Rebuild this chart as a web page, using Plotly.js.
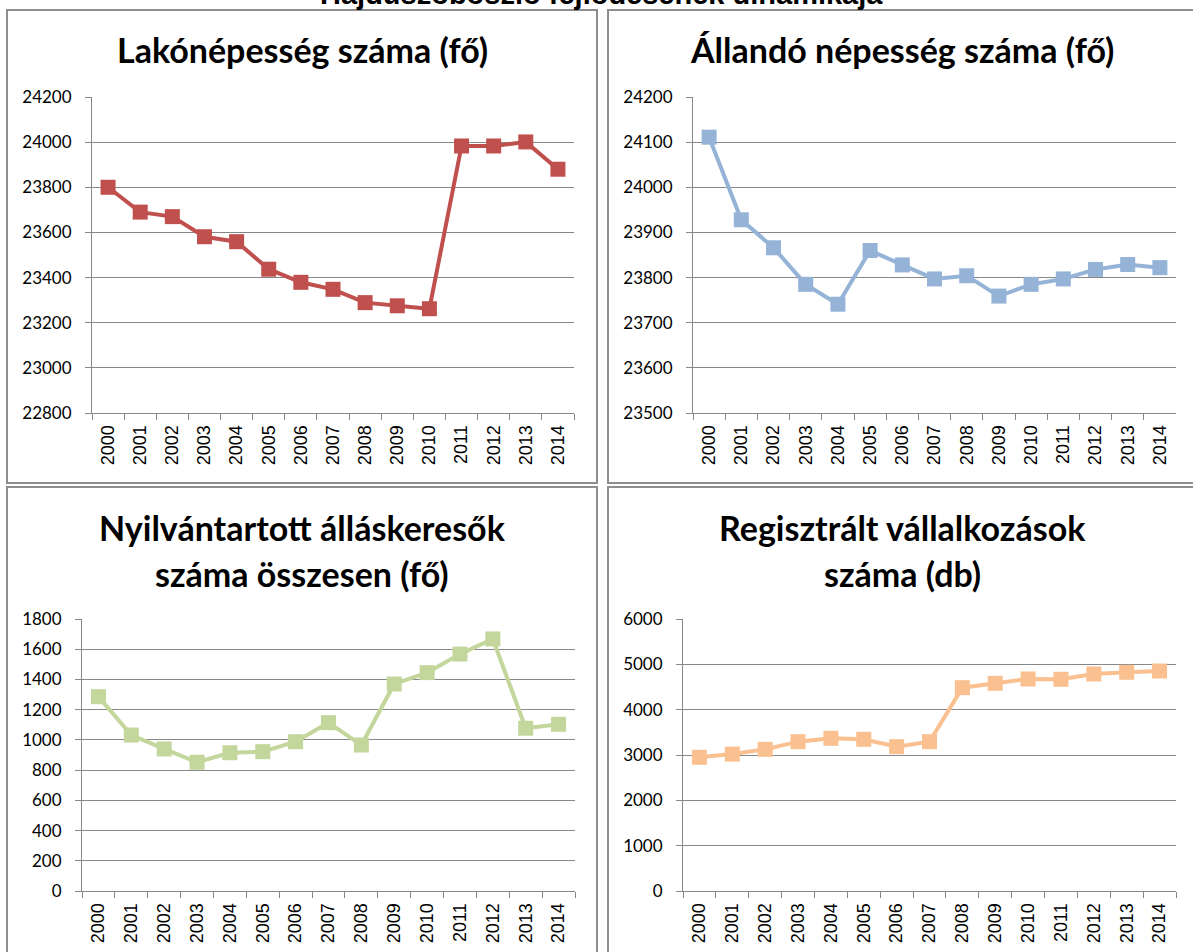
<!DOCTYPE html>
<html>
<head>
<meta charset="utf-8">
<script src="https://cdn.plot.ly/plotly-3.0.1.min.js"></script>
<style>
html,body{margin:0;padding:0;background:#fff;}
#chart{width:1193px;height:952px;}
</style>
</head>
<body>
<div id="chart"></div>
<script>
const years = ['2000','2001','2002','2003','2004','2005','2006','2007','2008','2009','2010','2011','2012','2013','2014'];
const lakonepesseg = [23800,23690,23670,23581,23559,23437,23379,23348,23289,23275,23262,23983,23983,24001,23880];
const allandoNepesseg = [24111,23928,23866,23785,23741,23860,23828,23797,23804,23759,23785,23797,23818,23829,23822];
const allaskeresok = [1286,1032,940,852,915,922,988,1114,966,1370,1445,1568,1668,1077,1103];
const vallalkozasok = [2950,3020,3125,3294,3368,3346,3184,3294,4485,4581,4677,4670,4787,4824,4853];

const mainTitle = 'Hajdúszoboszló fejlődésének dinamikája';
const titles = [
  ['Lakónépesség száma (fő)'],
  ['Állandó népesség száma (fő)'],
  ['Nyilvántartott álláskeresők', 'száma összesen (fő)'],
  ['Regisztrált vállalkozások', 'száma (db)']
];
const colors = ['#C0504D', '#95B3D7', '#C3D69B', '#FAC090'];

const W = 1193, H = 952;
const px = v => v / W;
const py = v => 1 - v / H;

const series = [lakonepesseg, allandoNepesseg, allaskeresok, vallalkozasok];
const yRanges = [[22800, 24200], [23500, 24200], [0, 1800], [0, 6000]];
const yDticks = [200, 100, 200, 1000];
const xDomains = [[92, 574], [693, 1176], [82, 575], [683, 1176]];
const yDomains = [[97, 413], [97, 413], [619, 891], [619, 891]];

const data = series.map((s, i) => ({
  x: years, y: s, type: 'scatter', mode: 'lines+markers',
  xaxis: i === 0 ? 'x' : 'x' + (i + 1),
  yaxis: i === 0 ? 'y' : 'y' + (i + 1),
  line: {color: colors[i], width: 4},
  marker: {symbol: 'square', size: 15, color: colors[i]},
  cliponaxis: false,
  hoverinfo: 'x+y'
}));

const layout = {
  width: W, height: H,
  margin: {l: 0, r: 0, t: 0, b: 0},
  paper_bgcolor: '#fff', plot_bgcolor: '#fff',
  showlegend: false,
  font: {family: 'Liberation Sans, Arial, sans-serif', color: '#000'},
  shapes: [], annotations: []
};

const gridColor = '#878787';
for (let i = 0; i < 4; i++) {
  const xa = i === 0 ? 'xaxis' : 'xaxis' + (i + 1);
  const ya = i === 0 ? 'yaxis' : 'yaxis' + (i + 1);
  layout[xa] = {
    domain: [px(xDomains[i][0]), px(xDomains[i][1])],
    anchor: i === 0 ? 'y' : 'y' + (i + 1),
    type: 'category',
    range: [-0.5, years.length - 0.5],
    tickson: 'boundaries',
    ticks: 'outside', ticklen: 6, tickcolor: gridColor, tickwidth: 1,
    showline: true, linecolor: gridColor, linewidth: 1,
    showgrid: false, zeroline: false,
    tickangle: -90,
    ticklabelstandoff: 4,
    tickfont: {family: 'Liberation Sans, Arial, sans-serif', size: 18, color: '#000'},
    fixedrange: true
  };
  layout[ya] = {
    domain: [py(yDomains[i][1]), py(yDomains[i][0])],
    anchor: i === 0 ? 'x' : 'x' + (i + 1),
    range: yRanges[i], dtick: yDticks[i], tick0: 0,
    tickformat: 'd',
    ticks: 'outside', ticklen: 6, tickcolor: gridColor, tickwidth: 1,
    showline: true, linecolor: gridColor, linewidth: 1,
    showgrid: true, gridcolor: gridColor, gridwidth: 1,
    zeroline: false,
    ticklabelstandoff: 10,
    tickfont: {family: 'Lato, sans-serif', size: 17, color: '#000'},
    fixedrange: true
  };
}

// panel borders
const panels = [[7, 10, 597, 483], [608, 10, 1200, 483], [7, 487, 597, 960], [608, 487, 1200, 960]];
panels.forEach(p => layout.shapes.push({
  type: 'rect', xref: 'paper', yref: 'paper',
  x0: px(p[0]), x1: px(p[2]), y0: py(p[3]), y1: py(p[1]),
  line: {color: '#8e8e8e', width: 2}, fillcolor: 'rgba(0,0,0,0)', layer: 'below'
}));

// panel titles
const titleCenters = [[302, [49]], [902, [49]], [302, [527, 573]], [902, [527, 573]]];
titles.forEach((lines, i) => {
  lines.forEach((t, j) => layout.annotations.push({
    text: t, xref: 'paper', yref: 'paper',
    x: px(titleCenters[i][0]), y: py(titleCenters[i][1][j]),
    xanchor: 'center', yanchor: 'middle', showarrow: false,
    font: {family: 'Lato, sans-serif', size: 34, color: '#000', weight: 'bold'}
  }));
});

layout.annotations.push({
  text: '<b>' + mainTitle + '</b>', xref: 'paper', yref: 'paper',
  x: px(601), y: py(12), xanchor: 'center', yanchor: 'bottom', showarrow: false,
  font: {family: 'Liberation Sans, Arial, sans-serif', size: 29, color: '#000'}
});

Plotly.newPlot('chart', data, layout, {displayModeBar: false, staticPlot: true});
</script>
</body>
</html>
